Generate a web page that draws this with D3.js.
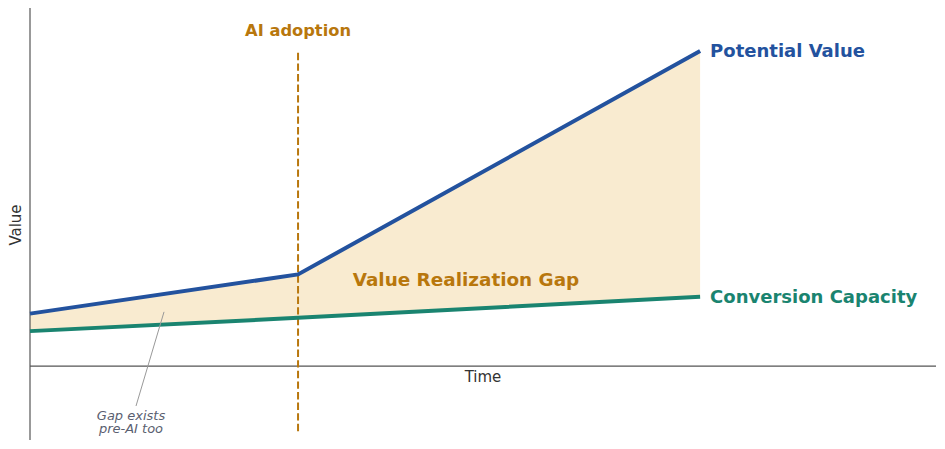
<!DOCTYPE html>
<html><head><meta charset="utf-8">
<script src="https://cdn.jsdelivr.net/npm/d3@7"></script>
<style>body{margin:0;background:#fff}svg{display:block;font-family:"DejaVu Sans",sans-serif}</style>
</head><body>
<svg id="c" width="945" height="449"></svg>
<script>
const timePoints = [0, 4, 10];
const potentialValue = [1.5, 2.62, 9.0];
const conversionCapacity = [1.0, 1.38, 1.98];
const aiAdoptionTime = 4;
const labels = {potential: "Potential Value", conversion: "Conversion Capacity", gap: "Value Realization Gap", ai: "AI adoption", note: ["Gap exists", "pre-AI too"], x: "Time", y: "Value"};

const svg = d3.select("#c");
const x = d3.scaleLinear().domain([0, 13.52]).range([30, 936]);
const y = d3.scaleLinear().domain([-2.11, 10.23]).range([440, 8]);

const blue = "#23529e", teal = "#1a8470", orange = "#b8770d";
const pts = timePoints.map((t, i) => ({t, p: potentialValue[i], c: conversionCapacity[i]}));

svg.append("path").datum(pts)
  .attr("d", d3.area().x(d => x(d.t)).y0(d => y(d.c)).y1(d => y(d.p)))
  .attr("fill", "#f9ebd0");

// axes
svg.append("line").attr("x1", x(0)).attr("x2", x(0)).attr("y1", y(10.23)).attr("y2", y(-2.11)).attr("stroke", "#555").attr("stroke-width", 1.2);
svg.append("line").attr("x1", x(0)).attr("x2", x(13.52)).attr("y1", y(0)).attr("y2", y(0)).attr("stroke", "#555").attr("stroke-width", 1.2);

// AI adoption line
svg.append("line").attr("x1", x(aiAdoptionTime)).attr("x2", x(aiAdoptionTime))
  .attr("y1", y(8.95)).attr("y2", y(-1.88))
  .attr("stroke", orange).attr("stroke-width", 2).attr("stroke-dasharray", "7.4,3.2");

const line = key => d3.line().x(d => x(d.t)).y(d => y(d[key]));
svg.append("path").datum(pts).attr("d", line("c")).attr("fill", "none").attr("stroke", teal).attr("stroke-width", 4);
svg.append("path").datum(pts).attr("d", line("p")).attr("fill", "none").attr("stroke", blue).attr("stroke-width", 4);

// labels
svg.append("text").attr("x", x(10) + 10).attr("y", y(potentialValue[2])).attr("dy", "0.35em")
  .attr("fill", blue).attr("font-weight", "bold").attr("font-size", 18).text(labels.potential);
svg.append("text").attr("x", x(10) + 10).attr("y", y(conversionCapacity[2])).attr("dy", "0.35em")
  .attr("fill", teal).attr("font-weight", "bold").attr("font-size", 18).text(labels.conversion);
svg.append("text").attr("x", 466).attr("y", 280).attr("dy", "0.35em").attr("text-anchor", "middle")
  .attr("fill", orange).attr("font-weight", "bold").attr("font-size", 18.4).text(labels.gap);
svg.append("text").attr("x", x(aiAdoptionTime)).attr("y", 30).attr("dy", "0.35em").attr("text-anchor", "middle")
  .attr("fill", orange).attr("font-weight", "bold").attr("font-size", 16.3).text(labels.ai);

svg.append("text").attr("x", 483).attr("y", 377).attr("dy", "0.35em").attr("text-anchor", "middle")
  .attr("fill", "#333").attr("font-size", 15).text(labels.x);
svg.append("text").attr("transform", "translate(16,225) rotate(-90)").attr("dy", "0.35em").attr("text-anchor", "middle")
  .attr("fill", "#333").attr("font-size", 15).text(labels.y);

// annotation
svg.append("line").attr("x1", 136).attr("y1", 406).attr("x2", x(2)).attr("y2", y(1.55))
  .attr("stroke", "#999").attr("stroke-width", 1);
const note = svg.append("text").attr("text-anchor", "middle").attr("fill", "#5a6070")
  .attr("font-style", "italic").attr("font-size", 13);
note.append("tspan").attr("x", 131).attr("y", 420).text(labels.note[0]);
note.append("tspan").attr("x", 131).attr("y", 433).text(labels.note[1]);
</script>
</body></html>
